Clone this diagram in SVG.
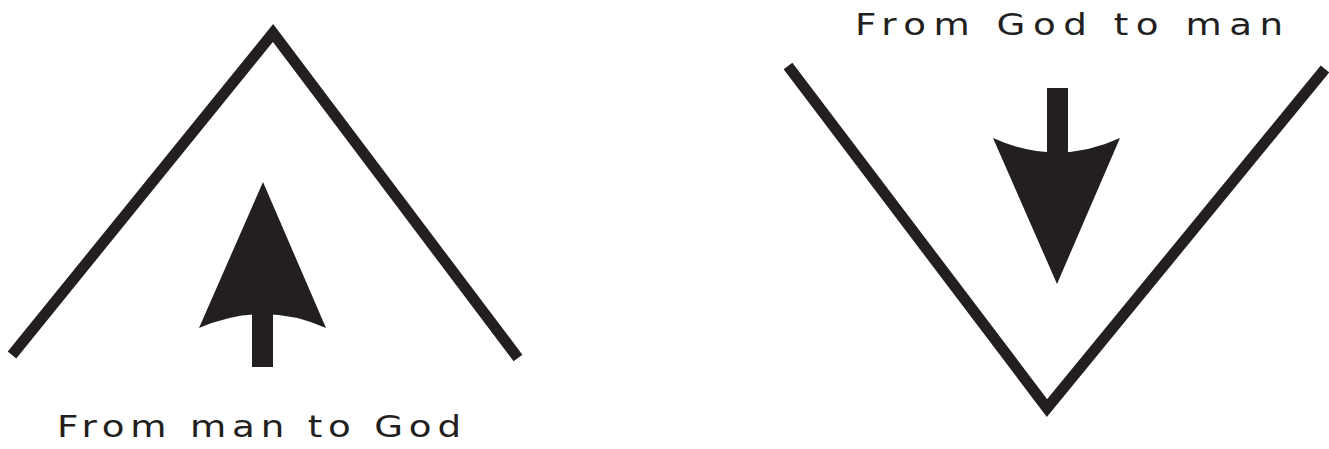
<svg xmlns="http://www.w3.org/2000/svg" width="1329" height="449" viewBox="0 0 1329 449">
<style>
.chev{fill:none;stroke:#231f20;stroke-width:11;stroke-linejoin:miter;stroke-miterlimit:10;stroke-linecap:butt}
.arr{fill:#231f20}
.lbl{font-family:"DejaVu Sans","Liberation Sans",sans-serif;font-size:31px;fill:#231f20}
</style>
<rect width="1329" height="449" fill="#fff"/>
<g id="up">
<polyline class="chev" points="12,355 273,33 518,358"/>
<path class="arr" d="M263,182 L326,328 Q263,300 199,328 Z"/>
<rect class="arr" x="252" y="312" width="21" height="55"/>
<text class="lbl" transform="scale(1.2,1)" x="47.5" y="437" textLength="336.7" lengthAdjust="spacing">From man to God</text>
</g>
<g id="down">
<polyline class="chev" points="788,66 1047,408 1325,69"/>
<path class="arr" d="M1057,284 L993,138 Q1057,167 1120,138 Z"/>
<rect class="arr" x="1047" y="88" width="21" height="67"/>
<text class="lbl" transform="scale(1.2,1)" x="712.5" y="35" textLength="356.7" lengthAdjust="spacing">From God to man</text>
</g>
<g id="connectors"/>
</svg>
